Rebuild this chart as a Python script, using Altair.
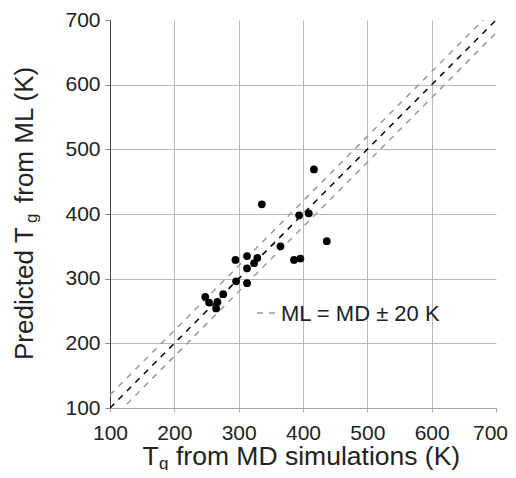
import altair as alt
import pandas as pd

# ---- data ----
md_tg = [417, 336, 394, 409, 437, 365, 295, 313, 329, 324, 313, 386, 396, 296, 313, 276, 248, 254, 267, 265]
ml_tg = [469, 415, 398, 401, 358, 350, 329, 335, 332, 324, 316, 329, 331, 296, 293, 276, 272, 263, 264, 254]

axis_ticks = [100, 200, 300, 400, 500, 600, 700]
diag_x = [100, 700]
band_offsets = [-20, 20]
legend_label = "ML = MD \u00b1 20 K"

x_title_main = "T"
x_title_sub = "g"
x_title_rest = "from MD simulations (K)"
y_title_pre = "Predicted"
y_title_main = "T"
y_title_sub = "g"
y_title_rest = "from ML (K)"

FONT = "Liberation Sans"
TXT = "#222222"
W, H = 386, 388

pts = pd.DataFrame({"md": md_tg, "ml": ml_tg})
diag = pd.DataFrame({"x": diag_x})
band = pd.DataFrame([{"x": x, "off": o} for o in band_offsets for x in diag_x])

xscale = alt.Scale(domain=[100, 700], nice=False, zero=False)
yscale = alt.Scale(domain=[100, 700], nice=False, zero=False)

grid_op = {"condition": {"test": "datum.value >= 700", "value": 0}, "value": 1}
last_label_shift = {"condition": {"test": "datum.value >= 700", "value": -6}, "value": 0}

xaxis = alt.Axis(values=axis_ticks, title=None, grid=True, gridColor="#b9b9b9",
                 gridOpacity=grid_op, domainColor="#a8a8a8", tickColor="#a8a8a8",
                 tickSize=4, labelFont=FONT, labelFontSize=21, labelColor=TXT,
                 labelPadding=10, labelFlush=False, labelOverlap=False,
                 labelOffset=last_label_shift)
yaxis = alt.Axis(values=axis_ticks, title=None, grid=True, gridColor="#b9b9b9",
                 gridOpacity=grid_op, domainColor="#444444", tickColor="#888888",
                 tickSize=5, labelFont=FONT, labelFontSize=21, labelColor=TXT,
                 labelPadding=5, labelFlush=False, labelOverlap=False)

band_layer = alt.Chart(band).transform_calculate(y="datum.x + datum.off").mark_line(
    clip=True, color="#999999", strokeWidth=1.5, strokeDash=[6, 6]
).encode(
    x=alt.X("x:Q", scale=xscale, axis=xaxis),
    y=alt.Y("y:Q", scale=yscale, axis=yaxis),
    detail="off:N",
)

diag_layer = alt.Chart(diag).transform_calculate(y="datum.x").mark_line(
    clip=True, color="#000000", strokeWidth=1.5, strokeDash=[6, 6]
).encode(
    x=alt.X("x:Q", scale=xscale),
    y=alt.Y("y:Q", scale=yscale),
)

pts_layer = alt.Chart(pts).mark_circle(size=60, color="#000000", opacity=1).encode(
    x=alt.X("md:Q", scale=xscale),
    y=alt.Y("ml:Q", scale=yscale),
)


def label(txt, x, y, size, angle=0):
    return alt.Chart(pd.DataFrame({"t": [txt]})).mark_text(
        align="left", baseline="alphabetic", font=FONT, fontSize=size,
        color=TXT, angle=angle
    ).encode(text="t:N", x=alt.value(x), y=alt.value(y))


legend_dash = alt.Chart(pd.DataFrame({"t": [legend_label]})).mark_rule(
    color="#999999", strokeWidth=1.5, strokeDash=[6, 6]
).encode(x=alt.value(147), x2=alt.value(165), y=alt.value(293))

layers = [
    band_layer, diag_layer, pts_layer, legend_dash,
    label(legend_label, 171, 301, 22),
    # x title
    label(x_title_main, 32.5, 445, 26.5),
    label(x_title_sub, 49, 449, 17),
    label(x_title_rest, 66, 445, 26.5),
    # y title (rotated, reads bottom to top)
    label(y_title_pre, -77, 340, 26, 270),
    label(y_title_main, -77, 223, 26, 270),
    label(y_title_sub, -73, 203, 17, 270),
    label(y_title_rest, -77, 183, 26, 270),
]

chart = alt.layer(*layers).properties(
    width=W, height=H,
    autosize=alt.AutoSizeParams(type="none"),
    padding={"left": 102, "top": 12, "right": 12, "bottom": 62},
    background="white",
).configure_view(strokeWidth=0)

chart.save("out.html", embed_options={"renderer": "svg", "actions": False})
